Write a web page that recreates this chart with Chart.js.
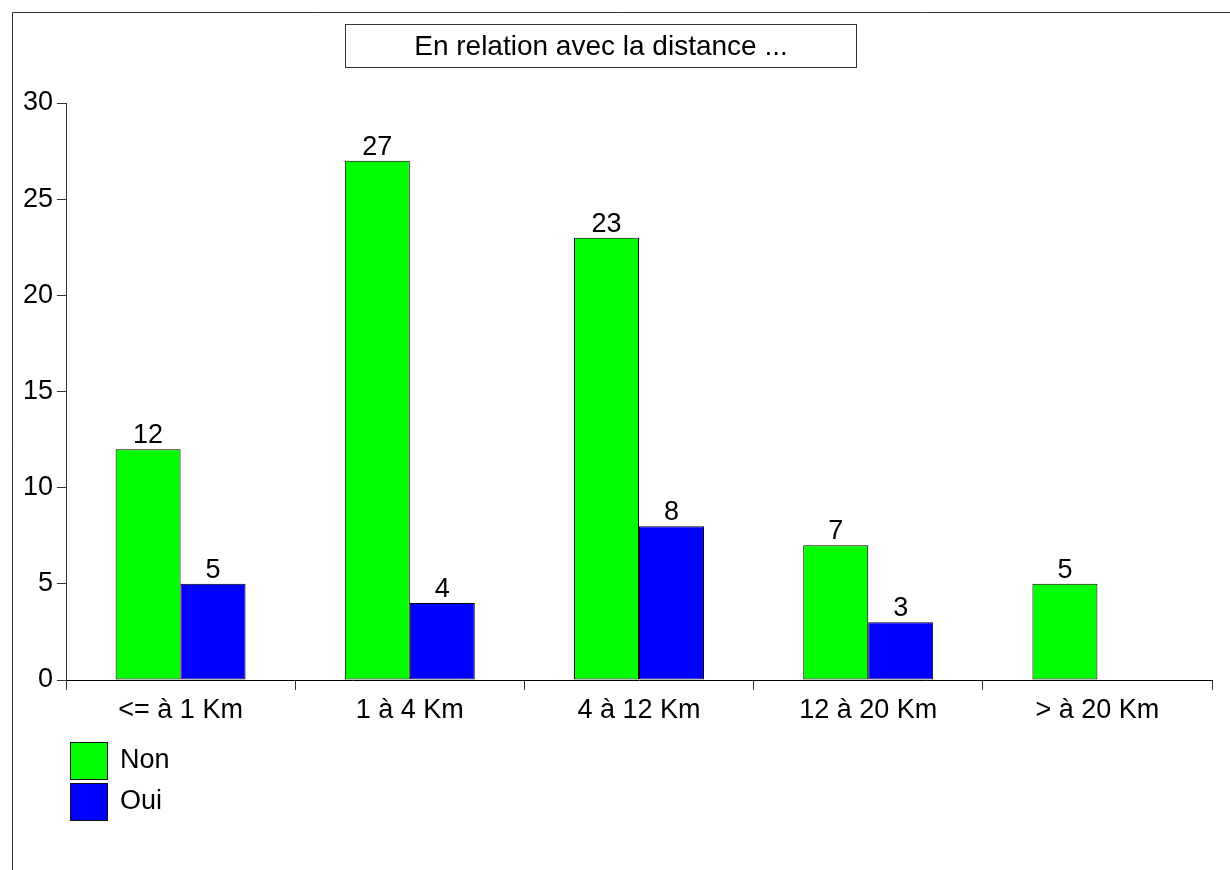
<html lang="fr">
  <head>
    <meta charset="utf-8" />
    <title>En relation avec la distance</title>
    <script src="https://cdn.jsdelivr.net/npm/chart.js@4.4.0/dist/chart.umd.min.js"></script>
    <style>
      body { margin: 0; background: #fff; }
      #wrap { position: relative; width: 1230px; height: 870px; }
    </style>
  </head>
  <body>
    <div id="wrap"><canvas id="chart" width="1230" height="870"></canvas></div>
    <script>
      // data
      const categories = ["<= à 1 Km", "1 à 4 Km", "4 à 12 Km", "12 à 20 Km", "> à 20 Km"];
      const nonValues = [12, 27, 23, 7, 5];
      const ouiValues = [5, 4, 8, 3, null];
      const seriesNames = ["Non", "Oui"];
      const seriesColors = ["#00ff00", "#0000ff"];
      const titleText = "En relation avec la distance ...";

      const FONT = '"Liberation Sans", Arial, sans-serif';
      Chart.defaults.font.family = FONT;
      Chart.defaults.color = "#000";

      // frame, title box and legend, drawn around the chart
      const decorations = {
        id: "decorations",
        beforeDraw(chart) {
          const c = chart.ctx;
          c.save();
          c.strokeStyle = "#333";
          c.lineWidth = 1;
          c.beginPath();
          c.moveTo(12.5, 870);
          c.lineTo(12.5, 12.5);
          c.lineTo(1230, 12.5);
          c.stroke();
          c.restore();
        },
        afterDraw(chart) {
          const c = chart.ctx;
          c.save();
          // title box
          c.strokeStyle = "#333";
          c.lineWidth = 1;
          c.strokeRect(345.5, 24.5, 511, 43);
          c.fillStyle = "#000";
          c.font = "28px " + FONT;
          c.textAlign = "center";
          c.textBaseline = "middle";
          c.fillText(titleText, 601, 47);
          // legend
          c.font = "27px " + FONT;
          c.textAlign = "left";
          chart.data.datasets.forEach((ds, i) => {
            const y = 742 + i * 41;
            c.fillStyle = ds.backgroundColor;
            c.fillRect(70.5, y + 0.5, 37, 37);
            c.strokeStyle = "#111";
            c.strokeRect(70.5, y + 0.5, 37, 37);
            c.fillStyle = "#000";
            c.fillText(ds.label, 120, y + 19);
          });
          c.restore();
        }
      };

      // value labels above each bar
      const valueLabels = {
        id: "valueLabels",
        afterDatasetsDraw(chart) {
          const c = chart.ctx;
          c.save();
          c.fillStyle = "#000";
          c.font = "27px " + FONT;
          c.textAlign = "center";
          c.textBaseline = "alphabetic";
          chart.data.datasets.forEach((ds, di) => {
            const meta = chart.getDatasetMeta(di);
            meta.data.forEach((bar, i) => {
              const v = ds.data[i];
              if (v === null || v === undefined) return;
              c.fillText(String(v), bar.x, bar.y - 6);
            });
          });
          c.restore();
        }
      };

      new Chart(document.getElementById("chart"), {
        type: "bar",
        plugins: [decorations, valueLabels],
        data: {
          labels: categories,
          datasets: [
            { label: seriesNames[0], data: nonValues, backgroundColor: seriesColors[0] },
            { label: seriesNames[1], data: ouiValues, backgroundColor: seriesColors[1] }
          ]
        },
        options: {
          responsive: false,
          animation: false,
          layout: { padding: { top: 103, right: 18, bottom: 140, left: 0 } },
          datasets: {
            bar: {
              categoryPercentage: 0.567,
              barPercentage: 1,
              borderWidth: 1,
              borderColor: "#000",
              borderSkipped: false
            }
          },
          plugins: {
            legend: { display: false },
            tooltip: { enabled: false },
            title: { display: false }
          },
          scales: {
            x: {
              grid: { offset: true, drawOnChartArea: false, tickLength: 10, color: "#333" },
              border: { color: "#000" },
              ticks: { font: { size: 27 }, padding: 4, color: "#000" },
              afterFit(scale) { scale.height = 50; }
            },
            y: {
              min: 0,
              max: 30,
              grid: { drawOnChartArea: false, tickLength: 9, color: "#333" },
              border: { color: "#333" },
              ticks: { stepSize: 5, font: { size: 27 }, padding: 4, color: "#000" },
              afterFit(scale) { scale.width = 66; }
            }
          }
        }
      });
    </script>
  </body>
</html>
